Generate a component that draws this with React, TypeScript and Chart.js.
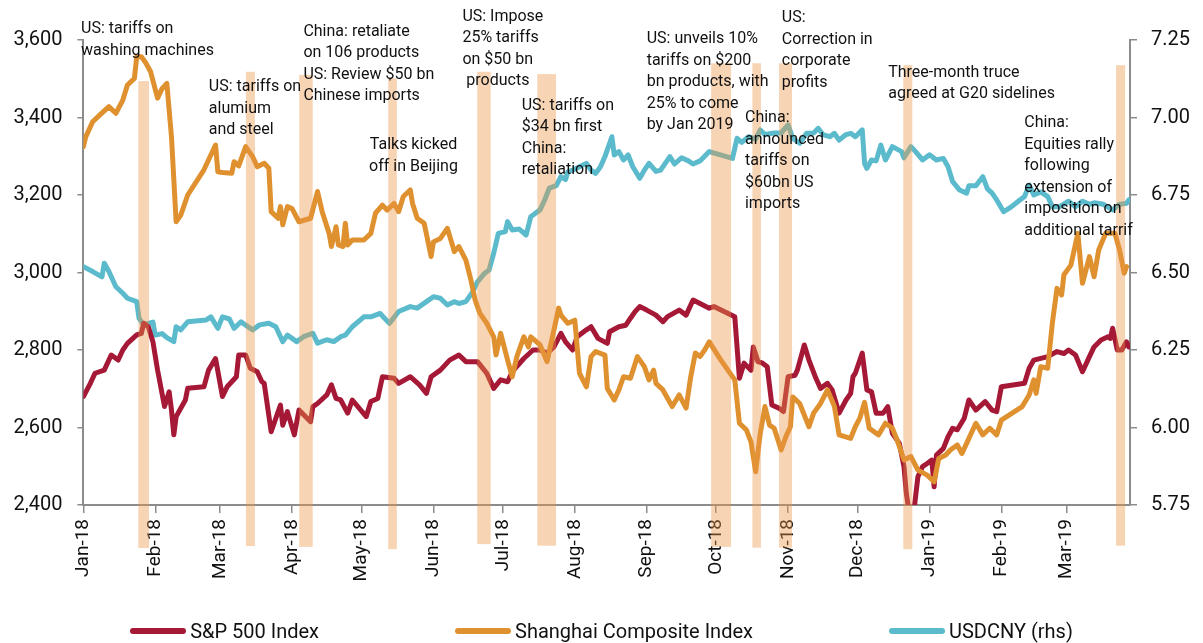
import React, { useEffect, useRef } from "react";
import { Chart, registerables } from "chart.js";

Chart.register(...registerables);

// x values are calendar days counted from 1 Jan 2018
const monthDays = [0, 31, 59, 90, 120, 151, 181, 212, 243, 273, 304, 334, 365, 396, 424];
const monthLabels = ["Jan-18", "Feb-18", "Mar-18", "Apr-18", "May-18", "Jun-18", "Jul-18", "Aug-18", "Sep-18", "Oct-18", "Nov-18", "Dec-18", "Jan-19", "Feb-19", "Mar-19"];

const spxDays = [0, 3, 5, 9, 12, 15, 17, 19, 23, 25, 26, 28, 30, 32, 35, 37, 38, 39, 40, 44, 45, 52, 54, 57, 60, 62, 66, 67, 70, 72, 75, 77, 78, 81, 85, 86, 88, 91, 93, 98, 99, 101, 105, 107, 109, 111, 114, 116, 122, 124, 127, 129, 134, 136, 141, 145, 148, 150, 154, 158, 162, 165, 170, 174, 177, 180, 183, 185, 190, 194, 197, 200, 203, 206, 208, 211, 213, 217, 219, 222, 226, 227, 231, 234, 236, 238, 240, 243, 247, 250, 252, 257, 260, 263, 266, 270, 272, 281, 283, 285, 288, 289, 291, 293, 295, 297, 300, 302, 304, 307, 308, 311, 313, 316, 318, 321, 323, 326, 329, 331, 332, 333, 336, 338, 340, 342, 345, 347, 349, 352, 354, 355, 357, 358, 360, 362, 364, 366, 367, 368, 371, 373, 375, 377, 380, 382, 385, 389, 392, 394, 396, 406, 408, 410, 416, 420, 423, 425, 428, 431, 434, 436, 439, 442, 443, 444, 446, 448, 450, 451];
const spxValues = [2680, 2714, 2740, 2748, 2787, 2774, 2800, 2817, 2839, 2843, 2869, 2860, 2821, 2748, 2654, 2692, 2645, 2581, 2628, 2671, 2701, 2705, 2748, 2778, 2680, 2705, 2731, 2787, 2787, 2753, 2744, 2718, 2714, 2589, 2658, 2606, 2641, 2581, 2645, 2615, 2654, 2662, 2684, 2710, 2675, 2671, 2637, 2671, 2628, 2667, 2675, 2731, 2727, 2714, 2731, 2710, 2688, 2731, 2748, 2774, 2787, 2770, 2770, 2740, 2701, 2723, 2718, 2744, 2778, 2800, 2800, 2792, 2808, 2843, 2821, 2800, 2834, 2852, 2860, 2830, 2817, 2847, 2860, 2864, 2882, 2899, 2912, 2903, 2890, 2873, 2886, 2903, 2890, 2929, 2920, 2908, 2912, 2886, 2727, 2766, 2748, 2808, 2770, 2766, 2757, 2658, 2650, 2641, 2731, 2735, 2748, 2813, 2774, 2727, 2701, 2714, 2697, 2637, 2671, 2688, 2731, 2740, 2792, 2697, 2692, 2637, 2637, 2654, 2585, 2559, 2499, 2430, 2351, 2370, 2473, 2499, 2507, 2516, 2447, 2529, 2546, 2576, 2598, 2594, 2624, 2671, 2645, 2667, 2645, 2641, 2705, 2714, 2753, 2774, 2783, 2796, 2791, 2800, 2787, 2744, 2783, 2808, 2826, 2834, 2830, 2856, 2800, 2800, 2821, 2808];

const shDays = [0, 1, 4, 7, 11, 14, 17, 19, 22, 23, 25, 27, 29, 32, 34, 36, 38, 40, 42, 45, 52, 57, 58, 60, 64, 65, 67, 70, 73, 75, 78, 80, 81, 84, 85, 86, 88, 90, 93, 98, 101, 103, 106, 107, 109, 110, 112, 113, 114, 116, 121, 124, 126, 129, 131, 134, 136, 138, 141, 142, 144, 147, 150, 151, 154, 157, 159, 160, 162, 165, 167, 169, 171, 174, 177, 178, 180, 183, 185, 187, 190, 192, 193, 197, 200, 203, 205, 206, 209, 212, 214, 217, 219, 221, 225, 226, 229, 231, 233, 236, 239, 242, 244, 246, 247, 250, 254, 257, 260, 262, 264, 266, 268, 270, 275, 281, 283, 286, 288, 290, 292, 294, 296, 298, 301, 303, 305, 306, 309, 313, 315, 318, 321, 324, 326, 331, 333, 335, 337, 339, 343, 346, 349, 351, 354, 357, 360, 364, 367, 369, 372, 374, 377, 379, 382, 385, 388, 391, 394, 396, 405, 408, 410, 411, 413, 416, 418, 420, 422, 423, 426, 429, 431, 434, 436, 438, 441, 445, 447, 449, 450];
const shValues = [3325, 3350, 3389, 3406, 3428, 3411, 3445, 3484, 3501, 3557, 3557, 3540, 3518, 3450, 3475, 3488, 3350, 3131, 3148, 3200, 3265, 3329, 3260, 3258, 3256, 3286, 3275, 3325, 3299, 3273, 3282, 3269, 3157, 3140, 3170, 3123, 3170, 3165, 3131, 3140, 3209, 3157, 3101, 3067, 3118, 3071, 3067, 3127, 3071, 3084, 3084, 3101, 3153, 3174, 3161, 3178, 3157, 3196, 3213, 3178, 3140, 3127, 3041, 3079, 3088, 3114, 3075, 3054, 3067, 3032, 2985, 2929, 2895, 2869, 2834, 2787, 2843, 2774, 2731, 2783, 2834, 2808, 2834, 2813, 2770, 2852, 2908, 2890, 2869, 2877, 2740, 2705, 2783, 2796, 2787, 2701, 2671, 2697, 2731, 2727, 2783, 2757, 2723, 2748, 2714, 2697, 2654, 2684, 2650, 2731, 2792, 2783, 2800, 2821, 2774, 2723, 2611, 2594, 2563, 2486, 2585, 2654, 2606, 2598, 2542, 2576, 2602, 2679, 2662, 2602, 2637, 2662, 2697, 2654, 2581, 2572, 2602, 2625, 2665, 2598, 2581, 2611, 2598, 2568, 2516, 2525, 2490, 2477, 2460, 2520, 2529, 2542, 2555, 2533, 2572, 2611, 2581, 2598, 2581, 2619, 2654, 2684, 2723, 2688, 2757, 2753, 2869, 2959, 2942, 2994, 3019, 3101, 2972, 3041, 2989, 3058, 3101, 3101, 3058, 2998, 3015];

const cnyDays = [0, 4, 8, 9, 11, 14, 17, 19, 23, 24, 26, 28, 30, 31, 34, 36, 39, 40, 42, 45, 53, 55, 58, 60, 63, 65, 68, 70, 73, 76, 80, 83, 86, 88, 92, 95, 99, 101, 105, 108, 111, 113, 116, 121, 124, 128, 132, 136, 141, 144, 148, 151, 154, 157, 160, 162, 165, 168, 170, 173, 175, 177, 179, 182, 183, 185, 188, 191, 193, 195, 197, 199, 201, 204, 206, 208, 209, 211, 214, 217, 219, 221, 223, 225, 228, 229, 231, 233, 235, 237, 240, 242, 244, 247, 249, 253, 255, 258, 261, 263, 266, 270, 280, 282, 284, 287, 290, 292, 294, 298, 301, 304, 306, 309, 312, 315, 317, 319, 322, 324, 326, 329, 331, 333, 336, 337, 338, 340, 342, 344, 346, 349, 353, 354, 357, 359, 362, 365, 368, 371, 373, 375, 378, 381, 382, 385, 388, 390, 392, 394, 397, 400, 404, 406, 408, 410, 413, 416, 418, 421, 425, 428, 431, 434, 436, 440, 444, 447, 450, 451];
const cnyValues = [6.519, 6.503, 6.486, 6.53, 6.503, 6.454, 6.433, 6.417, 6.406, 6.352, 6.331, 6.336, 6.34, 6.298, 6.303, 6.29, 6.277, 6.325, 6.315, 6.341, 6.347, 6.357, 6.32, 6.357, 6.35, 6.32, 6.341, 6.33, 6.315, 6.331, 6.336, 6.325, 6.277, 6.298, 6.277, 6.293, 6.304, 6.272, 6.283, 6.277, 6.293, 6.298, 6.325, 6.357, 6.357, 6.368, 6.336, 6.374, 6.39, 6.385, 6.406, 6.422, 6.417, 6.395, 6.406, 6.4, 6.406, 6.438, 6.47, 6.497, 6.508, 6.562, 6.626, 6.632, 6.664, 6.637, 6.64, 6.621, 6.68, 6.691, 6.702, 6.734, 6.772, 6.78, 6.809, 6.8, 6.825, 6.83, 6.841, 6.852, 6.83, 6.82, 6.84, 6.874, 6.938, 6.879, 6.89, 6.863, 6.879, 6.841, 6.804, 6.83, 6.852, 6.826, 6.83, 6.874, 6.85, 6.87, 6.86, 6.85, 6.86, 6.89, 6.868, 6.933, 6.92, 6.938, 6.93, 6.96, 6.945, 6.95, 6.95, 6.976, 6.933, 6.917, 6.949, 6.95, 6.965, 6.945, 6.938, 6.949, 6.927, 6.945, 6.949, 6.938, 6.96, 6.852, 6.836, 6.863, 6.86, 6.911, 6.863, 6.906, 6.89, 6.87, 6.906, 6.89, 6.863, 6.88, 6.863, 6.868, 6.841, 6.793, 6.766, 6.756, 6.78, 6.78, 6.809, 6.77, 6.756, 6.734, 6.696, 6.71, 6.734, 6.745, 6.782, 6.75, 6.76, 6.745, 6.712, 6.712, 6.73, 6.712, 6.73, 6.72, 6.725, 6.72, 6.702, 6.72, 6.723, 6.734];

// event windows (days) with the extent of the shaded band on the left-hand scale
const eventStarts = [23.7, 70.1, 93.1, 131.5, 169.9, 195.8, 270.8, 288.6, 300.1, 353.7, 445.5];
const eventEnds = [28.3, 74.0, 98.9, 135.2, 175.7, 203.9, 279.4, 292.3, 305.7, 357.6, 449.4];
const eventTops = [3494, 3518, 3510, 3501, 3518, 3512, 3540, 3540, 3540, 3535, 3535];
const eventBottoms = [2289, 2294, 2292, 2286, 2299, 2295, 2292, 2290, 2290, 2286, 2295];

const annotationTexts = [
  ["US: tariffs on", "washing machines"],
  ["US: tariffs on", "alumium", "and steel"],
  ["China: retaliate", "on 106 products", "US: Review $50 bn", "Chinese imports"],
  ["Talks kicked", "off in Beijing"],
  ["US: Impose", "25% tariffs", "on $50 bn", " products"],
  ["US: tariffs on", "$34 bn first", "China:", "retaliation"],
  ["US: unveils 10%", "tariffs on $200", "bn products, with", "25% to come", "by Jan 2019"],
  ["China:", "announced", "tariffs on", "$60bn US", "imports"],
  ["US:", "Correction in", "corporate", "profits"],
  ["Three-month truce", "agreed at G20 sidelines"],
  ["China:", "Equities rally", "following", "extension of", "imposition on", "additional tarrif"],
];
const annotationDays = [-1.0, 54.1, 94.9, 142.4, 163.5, 189.1, 243.0, 285.4, 301.3, 347.2, 405.9];
const annotationLevels = [3628, 3478, 3621, 3329, 3660, 3430, 3602, 3398, 3656, 3516, 3385];
const annotationAlign = ["left", "left", "left", "center", "left", "left", "left", "left", "left", "left", "left"];

const COLORS = {
  spx: "#A51937",
  sh: "#E0912F",
  cny: "#5BBBCC",
  band: "rgba(235,148,68,0.4)",
  axis: "#8c8c8c",
  text: "#111111",
};

const FONT = "Roboto, 'DejaVu Sans', sans-serif";

const toPoints = (xs: number[], ys: number[]) => xs.map((x, i) => ({ x, y: ys[i] }));

const eventPlugin = {
  id: "events",
  afterDatasetsDraw(chart: any) {
    const { ctx, scales } = chart;
    const xs = scales.x;
    const ys = scales.y;
    ctx.save();
    ctx.fillStyle = COLORS.band;
    for (let i = 0; i < eventStarts.length; i++) {
      const x0 = xs.getPixelForValue(eventStarts[i]);
      const x1 = xs.getPixelForValue(eventEnds[i]);
      const y0 = ys.getPixelForValue(eventTops[i]);
      const y1 = ys.getPixelForValue(eventBottoms[i]);
      ctx.fillRect(x0, y0, x1 - x0, y1 - y0);
    }
    ctx.font = `16px ${FONT}`;
    ctx.fillStyle = COLORS.text;
    ctx.textBaseline = "middle";
    for (let i = 0; i < annotationTexts.length; i++) {
      const x = xs.getPixelForValue(annotationDays[i]);
      const y = ys.getPixelForValue(annotationLevels[i]);
      ctx.textAlign = annotationAlign[i] as CanvasTextAlign;
      annotationTexts[i].forEach((line, j) => {
        ctx.fillText(line, x, y + j * 21.5);
      });
    }
    ctx.restore();
  },
};

const legendItems = [
  { label: "S&P 500 Index", color: COLORS.spx },
  { label: "Shanghai Composite Index", color: COLORS.sh },
  { label: "USDCNY (rhs)", color: COLORS.cny },
];

export default function App() {
  const canvasRef = useRef<HTMLCanvasElement | null>(null);

  useEffect(() => {
    if (!canvasRef.current) return;
    Chart.defaults.font.family = FONT;
    const tickFont = { size: 20, family: FONT };
    const chart = new Chart(canvasRef.current, {
      type: "line",
      data: {
        datasets: [
          {
            label: "S&P 500 Index",
            data: toPoints(spxDays, spxValues),
            borderColor: COLORS.spx,
            backgroundColor: COLORS.spx,
            yAxisID: "y",
            order: 2,
          },
          {
            label: "Shanghai Composite Index",
            data: toPoints(shDays, shValues),
            borderColor: COLORS.sh,
            backgroundColor: COLORS.sh,
            yAxisID: "y",
            order: 1,
          },
          {
            label: "USDCNY (rhs)",
            data: toPoints(cnyDays, cnyValues),
            borderColor: COLORS.cny,
            backgroundColor: COLORS.cny,
            yAxisID: "y1",
            order: 3,
          },
        ],
      },
      options: {
        responsive: false,
        animation: false,
        devicePixelRatio: 1,
        events: [],
        layout: { padding: { top: 40, left: 0, right: 0, bottom: 0 } },
        plugins: { legend: { display: false }, tooltip: { enabled: false } },
        elements: {
          point: { radius: 0 },
          line: { tension: 0, borderWidth: 5, borderCapStyle: "round", borderJoinStyle: "round", fill: false },
        },
        scales: {
          x: {
            type: "linear",
            min: 0,
            max: 451.5,
            z: 1,
            afterBuildTicks: (s: any) => {
              s.ticks = monthDays.map((v) => ({ value: v }));
            },
            afterFit: (s: any) => {
              s.height = 138;
            },
            ticks: {
              autoSkip: false,
              maxRotation: 90,
              minRotation: 90,
              padding: 6,
              color: COLORS.text,
              font: { size: 19, family: FONT },
              callback: (_v: any, i: number) => monthLabels[i],
            },
            grid: { drawOnChartArea: false, tickLength: 8, color: COLORS.axis, lineWidth: 1.5 },
            border: { color: COLORS.axis, width: 2 },
          },
          y: {
            type: "linear",
            position: "left",
            min: 2400,
            max: 3600,
            afterFit: (s: any) => {
              s.width = 83.4;
            },
            ticks: {
              stepSize: 200,
              padding: 15,
              color: COLORS.text,
              font: tickFont,
              callback: (v: any) => Number(v).toLocaleString("en-US"),
            },
            grid: { drawOnChartArea: false, tickLength: 6, color: COLORS.axis, lineWidth: 1.5 },
            border: { color: COLORS.axis, width: 2 },
          },
          y1: {
            type: "linear",
            position: "right",
            min: 5.75,
            max: 7.25,
            afterFit: (s: any) => {
              s.width = 73;
            },
            ticks: {
              stepSize: 0.25,
              padding: 14,
              color: COLORS.text,
              font: tickFont,
              callback: (v: any) => Number(v).toFixed(2),
            },
            grid: { drawOnChartArea: false, tickLength: 7, color: COLORS.axis, lineWidth: 1.5 },
            border: { color: COLORS.axis, width: 2 },
          },
        },
      },
      plugins: [eventPlugin],
    } as any);
    return () => chart.destroy();
  }, []);

  return (
    <div style={{ position: "absolute", left: 0, top: 0, width: 1203, height: 643, background: "#fff", fontFamily: FONT }}>
      <canvas ref={canvasRef} width={1203} height={643} style={{ display: "block" }} />
      <div
        style={{
          position: "absolute",
          left: 0,
          top: 619,
          width: 1203,
          height: 24,
          display: "flex",
          justifyContent: "center",
          alignItems: "center",
          gap: 136,
        }}
      >
        {legendItems.map((it) => (
          <div key={it.label} style={{ display: "flex", alignItems: "center" }}>
            <div style={{ width: 56, height: 6, borderRadius: 3, background: it.color, marginRight: 4 }} />
            <span style={{ fontSize: 20, color: COLORS.text, lineHeight: "24px" }}>{it.label}</span>
          </div>
        ))}
      </div>
    </div>
  );
}
